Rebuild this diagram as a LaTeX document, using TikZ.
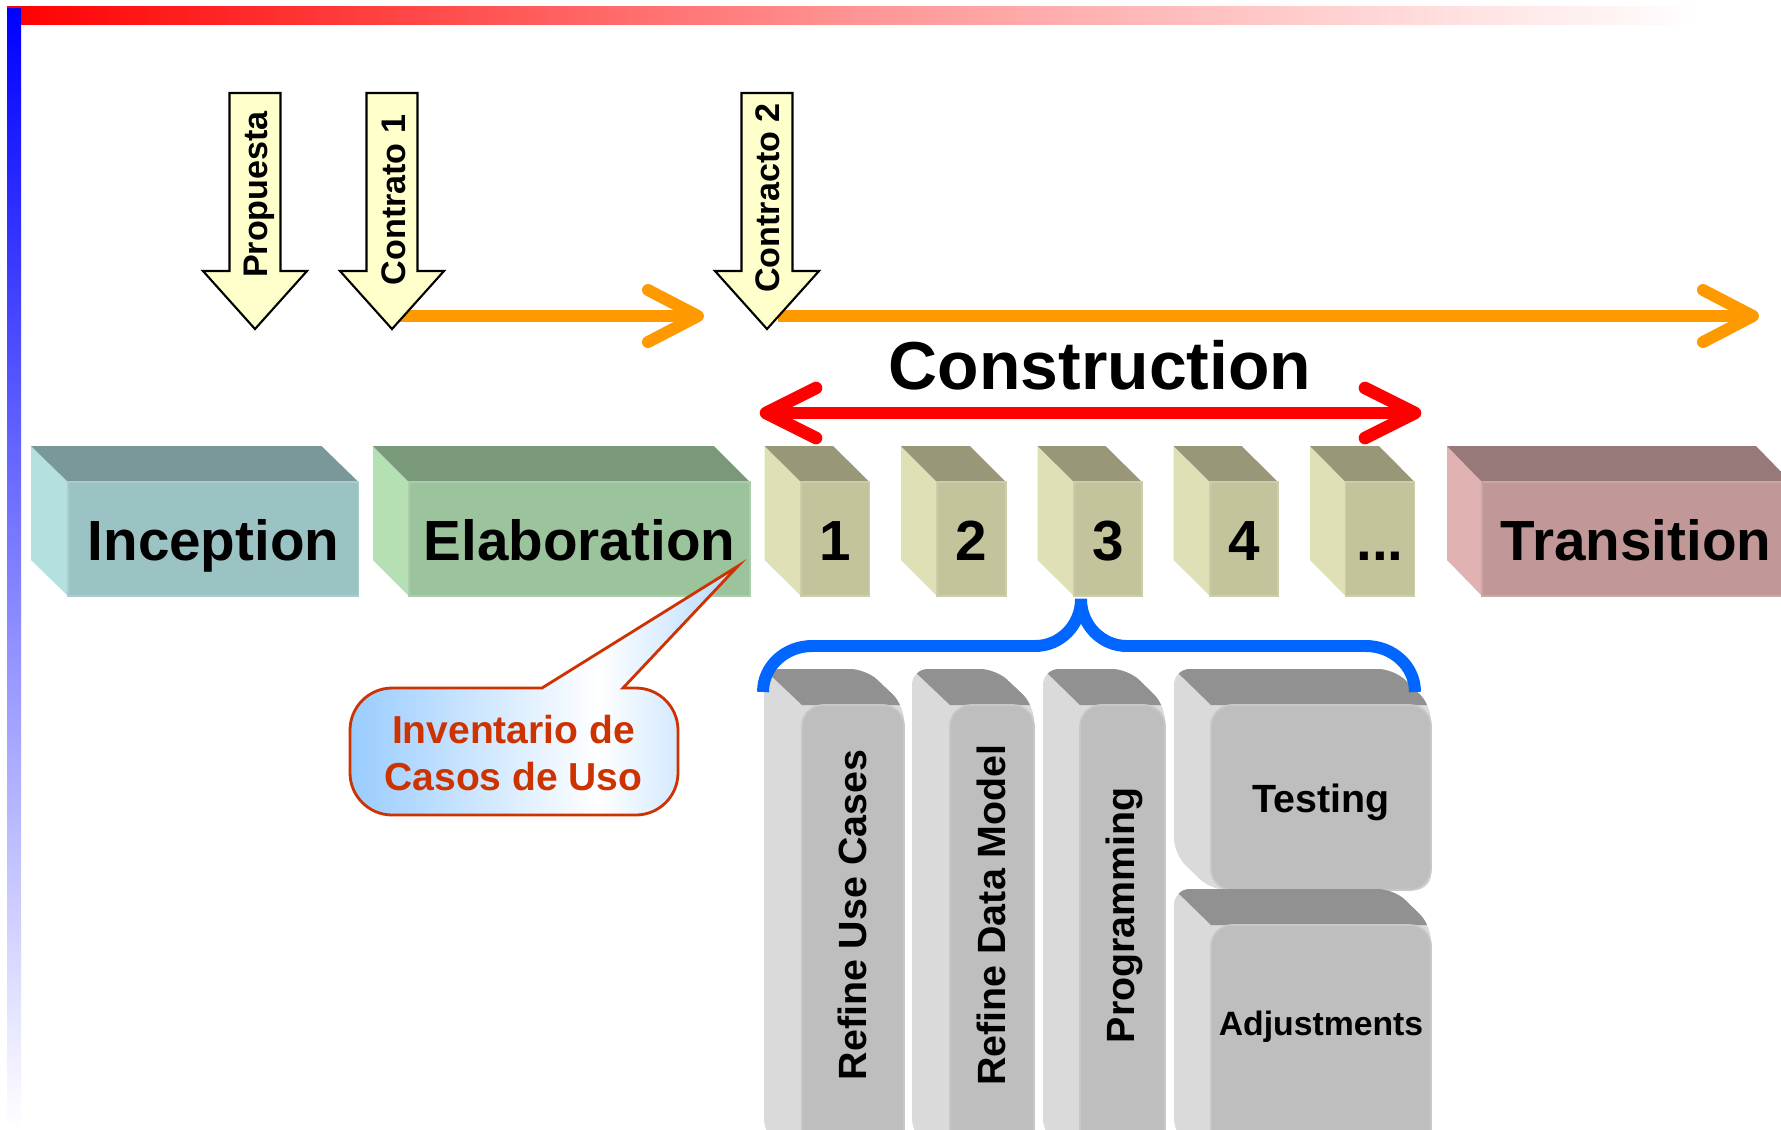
\documentclass[tikz,border=0pt]{standalone}
\usepackage{fontspec}
\setmainfont{Liberation Sans}
\usetikzlibrary{calc}
\definecolor{inF}{RGB}{156,195,195}
\definecolor{inT}{RGB}{122,152,152}
\definecolor{inS}{RGB}{180,224,224}
\definecolor{elF}{RGB}{156,196,156}
\definecolor{elT}{RGB}{122,152,122}
\definecolor{elS}{RGB}{180,224,180}
\definecolor{itF}{RGB}{196,196,156}
\definecolor{itT}{RGB}{152,152,120}
\definecolor{itS}{RGB}{224,224,182}
\definecolor{trF}{RGB}{193,151,151}
\definecolor{trT}{RGB}{152,121,121}
\definecolor{trS}{RGB}{224,178,178}
\definecolor{gF}{RGB}{190,190,190}
\definecolor{gT}{RGB}{145,145,145}
\definecolor{gS}{RGB}{218,218,218}
\definecolor{orangeA}{RGB}{255,153,0}
\definecolor{bracketblue}{RGB}{0,102,255}
\definecolor{calloutred}{RGB}{204,51,0}
\definecolor{calloutblue}{RGB}{153,204,255}
\definecolor{noteyellow}{RGB}{255,255,204}
\pgfdeclarehorizontalshading{calloutshade}{100bp}{color(0bp)=(calloutblue); color(25bp)=(calloutblue); color(57bp)=(white); color(75bp)=(calloutblue!75!white); color(100bp)=(calloutblue!75!white)}

% colored phase block: xl xf xr front top side
\newcommand\phasebox[6]{%
  \fill[#6] (#1,446) -- (#2,482) -- (#2,596) -- (#1,560) -- cycle;
  \fill[#5] (#1,446) -- ({#3-(#2-#1)},446) -- (#3,482) -- (#2,482) -- cycle;
  \fill[#4, draw=#4!85!white, line width=0.5pt] (#2,482) rectangle (#3,596);
}
% grey rounded block: xl xf xr ytopback yfronttop ybottom
\newcommand\greyblock[6]{%
  \begin{scope}
    \path[clip, rounded corners=4.5pt] (#1,#4) -- ({#3-(#2-#1)},#4) -- (#3,#5) -- (#3,#6) -- (#2,#6) -- (#1,{#6-(#5-#4)}) -- cycle;
    \fill[gS] ({#1-5},{#4-5}) rectangle ({#3+5},{#6+5});
    \fill[gT] (#1,#4) -- ({#3-(#2-#1)},#4) -- (#3,#5) -- (#2,#5) -- cycle;
  \end{scope}
  \fill[gF, draw=gF!85!white, line width=0.5pt, rounded corners=6pt] (#2,#5) rectangle (#3,#6);
}
% yellow down arrow centred at x
\newcommand\mkdownarrow[1]{%
  \draw[notearrow] ({#1-25.5},93) -- ({#1+25.5},93) -- ({#1+25.5},271) -- ({#1+52},271) -- (#1,329) -- ({#1-52},271) -- ({#1-25.5},271) -- cycle;
}

\begin{document}
\begin{tikzpicture}[x=0.01cm, y=-0.01cm,
  notearrow/.style={fill=noteyellow, draw=black, line width=0.6pt, line join=miter},
  phaselbl/.style={font=\bfseries\fontsize{16.1}{19}\selectfont, inner sep=0pt, anchor=base},
  notelbl/.style={font=\bfseries\fontsize{9.7}{11}\selectfont, rotate=90, inner sep=0pt},
  greylbl/.style={font=\bfseries\fontsize{11.2}{13}\selectfont, inner sep=0pt},
  calloutlbl/.style={font=\bfseries\fontsize{11.1}{13}\selectfont, text=calloutred, inner sep=0pt, anchor=base},
  orangeline/.style={draw=orangeA, line width=3.4pt, line cap=butt},
  chevorange/.style={draw=orangeA, line width=3.4pt, line cap=round, line join=round},
  redline/.style={draw=red, line width=3.6pt, line cap=butt},
  chevred/.style={draw=red, line width=3.6pt, line cap=round, line join=round},
  bracestyle/.style={draw=bracketblue, line width=3.4pt}]
\useasboundingbox (0,0) rectangle (1781,1129);
\clip (0,0) rectangle (1781,1129);

% decorative bars
\fill[left color=red, right color=white, middle color=red!42!white] (7,6) rectangle (1700,24);
\fill[top color=blue, bottom color=white] (7,8) rectangle (21,1129);

% orange arrows
\coordinate (o1s) at (398,316);
\coordinate (o1e) at (698,316);
\coordinate (o2s) at (778,316);
\coordinate (o2e) at (1753,316);
\draw[orangeline] (o1s) -- (o1e);
\draw[chevorange] ($(o1e)+(-50,-26)$) -- (o1e) -- ($(o1e)+(-50,26)$);
\draw[orangeline] (o2s) -- (o2e);
\draw[chevorange] ($(o2e)+(-50,-26)$) -- (o2e) -- ($(o2e)+(-50,26)$);

% milestone arrows
\mkdownarrow{255}
\mkdownarrow{392}
\mkdownarrow{767}
\node[notelbl] (prop) at (259,194.5) {Propuesta};
\node[notelbl] (con1) at (394,200) {Contrato 1};
\node[notelbl] (con2) at (767.5,198) {Contracto 2};

% construction span
\coordinate (rl) at (766,413);
\coordinate (rr) at (1415,413);
\draw[redline] (rl) -- (rr);
\draw[chevred] ($(rl)+(50,-25)$) -- (rl) -- ($(rl)+(50,25)$);
\draw[chevred] ($(rr)+(-50,-25)$) -- (rr) -- ($(rr)+(-50,25)$);
\node[font=\bfseries\fontsize{19.3}{23}\selectfont, inner sep=0pt, anchor=base] (cons) at (1100,389) {Construction};

% phase blocks
\phasebox{31}{68}{358.5}{inF}{inT}{inS}
\phasebox{373}{409}{750}{elF}{elT}{elS}
\phasebox{764.6}{801}{869.5}{itF}{itT}{itS}
\phasebox{901}{937}{1006}{itF}{itT}{itS}
\phasebox{1037.5}{1074}{1142}{itF}{itT}{itS}
\phasebox{1173.6}{1210}{1278}{itF}{itT}{itS}
\phasebox{1310}{1345.6}{1414.6}{itF}{itT}{itS}
\phasebox{1447}{1482}{1791}{trF}{trT}{trS}
\node[phaselbl] (inc) at (213.5,560) {Inception};
\node[phaselbl] (ela) at (579.5,560) {Elaboration};
\node[phaselbl] (it1) at (835.2,560) {1};
\node[phaselbl] (it2) at (971.5,560) {2};
\node[phaselbl] (it3) at (1108,560) {3};
\node[phaselbl] (it4) at (1244,560) {4};
\node[phaselbl] (it5) at (1380,560) {...};
\node[phaselbl] (tra) at (1636,560) {Transition};

% callout
\path[shading=calloutshade, draw=calloutred, line width=0.8pt]
  (514,815) [rounded corners=12pt] -- (350,815) -- (350,688)
  [sharp corners] -- (542,688) -- (738,566) -- (623,688)
  [rounded corners=12pt] -- (678,688) -- (678,815) -- cycle;
\node[calloutlbl] (inv1) at (513.5,743) {Inventario de};
\node[calloutlbl] (inv2) at (513.5,790) {Casos de Uso};

% grey activity blocks
\greyblock{764}{802}{904}{669}{705}{1170}
\greyblock{912}{950}{1034}{669}{705}{1170}
\greyblock{1043}{1080}{1165}{669}{705}{1170}
\greyblock{1174}{1211}{1431}{669}{705}{890}
\greyblock{1174}{1211}{1431}{889}{925}{1170}
\node[greylbl, rotate=90] (ruc) at (852,915) {Refine Use Cases};
\node[greylbl, rotate=90] (rdm) at (991,915) {Refine Data Model};
\node[greylbl, rotate=90] (prg) at (1124,915) {Programming};
\node[greylbl, anchor=base] (tst) at (1321,812) {Testing};
\node[greylbl, anchor=base, font=\bfseries\fontsize{9.6}{12}\selectfont] (adj) at (1321,1035) {Adjustments};

% brace
\coordinate (bl) at (763,692);
\coordinate (bm) at (1081,599);
\coordinate (br) at (1415,692);
\draw[bracestyle] (bl) to[out=90,in=180] (812,646) -- (1035,646) to[out=0,in=-90] (bm)
  to[out=-90,in=180] (1127,646) -- (1366,646) to[out=0,in=90] (br);
\end{tikzpicture}
\end{document}
